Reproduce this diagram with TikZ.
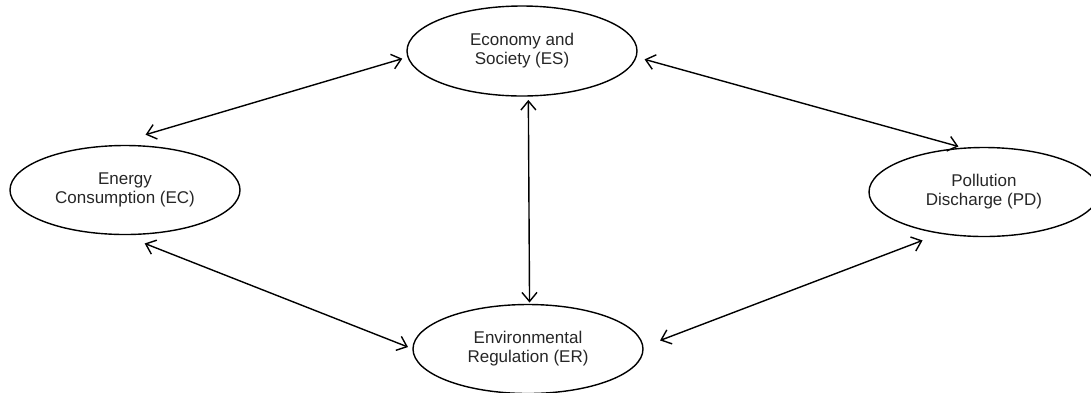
\documentclass[tikz,border=0pt]{standalone}
\usepackage{fontspec}
\setmainfont{Liberation Sans}
\usetikzlibrary{arrows.meta,shapes.geometric}
\begin{document}
\begin{tikzpicture}[x=1pt,y=-1pt,
  st/.style={ellipse,draw,line width=1.4pt,minimum width=230pt,minimum height=89pt,inner sep=0pt,outer sep=0pt,align=center,font=\fontsize{17}{19}\selectfont,text=black!85},
  conn/.style={{Straight Barb[length=9pt,width=15pt]}-{Straight Barb[length=9pt,width=15pt]},line width=1.4pt}]
\useasboundingbox (0,0) rectangle (1091,392);
\node[st,minimum height=90pt] (es) at (522,51) {Economy and\\Society (ES)};
\node[st] (ec) at (125,190) {Energy\\Consumption (EC)};
\node[st] (pd) at (984,192) {Pollution\\Discharge (PD)};
\node[st] (er) at (528,349) {Environmental\\Regulation (ER)};
\draw[conn,shorten <=6pt,shorten >=40pt] (es.183.6) -- (ec.112.1);
\draw[conn,shorten <=24.5pt,shorten >=5.4pt] (ec.266.4) -- (er.180);
\draw[conn,shorten <=8.9pt,shorten >=6.3pt] (es.357.7) -- (pd.114.7);
\draw[conn,shorten <=18.4pt,shorten >=20pt] (er.1.25) -- (pd.224);
\draw[conn,shorten <=4pt,shorten >=2pt] (es.278.9) -- (er.88.7);
\end{tikzpicture}
\end{document}
